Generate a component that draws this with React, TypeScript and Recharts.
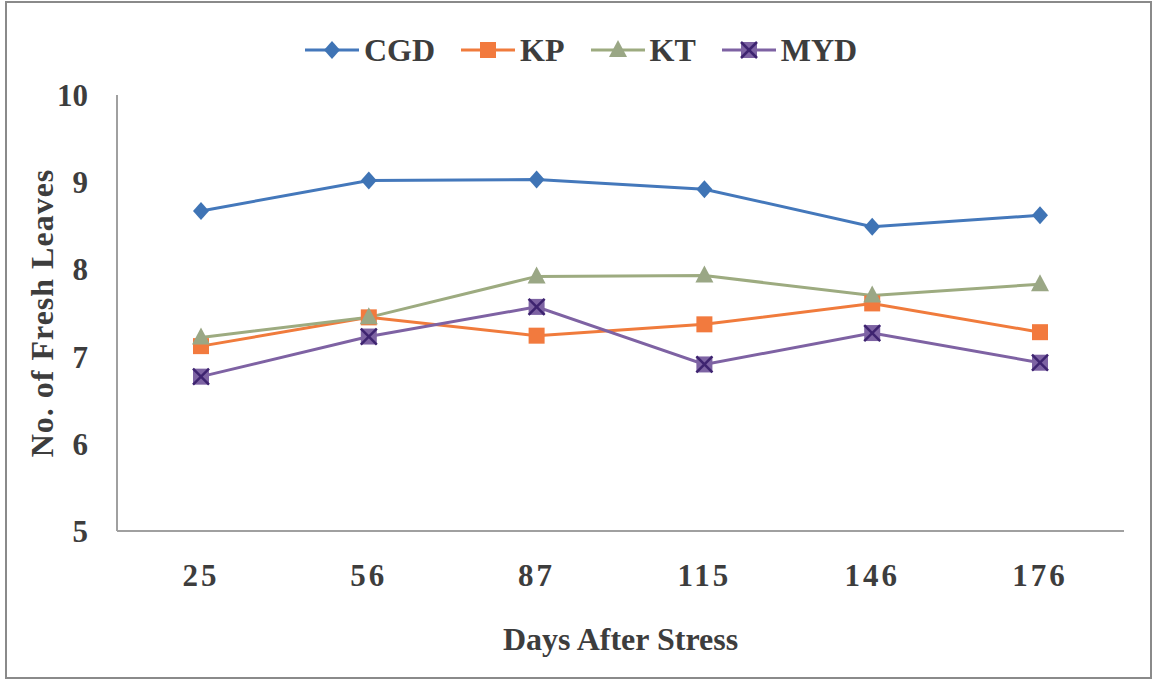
import { LineChart, Line, XAxis, YAxis } from "recharts";

const days = ["25", "56", "87", "115", "146", "176"];
const cgd = [8.67, 9.02, 9.03, 8.92, 8.49, 8.62];
const kp = [7.12, 7.45, 7.24, 7.37, 7.61, 7.28];
const kt = [7.22, 7.45, 7.92, 7.93, 7.7, 7.83];
const myd = [6.77, 7.23, 7.57, 6.91, 7.27, 6.93];
const yTicks = [5, 6, 7, 8, 9, 10];

const data = days.map((d, i) => ({
  day: d,
  CGD: cgd[i],
  KP: kp[i],
  KT: kt[i],
  MYD: myd[i],
}));

const FONT = '"Liberation Serif", "Times New Roman", serif';
const TEXT = "#3d3d3d";

const SERIES = [
  { key: "CGD", color: "#4478bb", marker: "diamond" },
  { key: "KP", color: "#f07b3c", marker: "square" },
  { key: "KT", color: "#9dab80", marker: "triangle" },
  { key: "MYD", color: "#7e62a3", marker: "cross" },
];

function Marker({ kind, cx, cy }: { kind: string; cx: number; cy: number }) {
  if (kind === "diamond")
    return (
      <polygon
        points={`${cx},${cy - 9} ${cx + 8},${cy} ${cx},${cy + 9} ${cx - 8},${cy}`}
        fill="#3f74b5"
      />
    );
  if (kind === "square")
    return <rect x={cx - 8} y={cy - 8} width={16} height={16} fill="#f27a3e" />;
  if (kind === "triangle")
    return (
      <polygon
        points={`${cx},${cy - 10} ${cx + 9},${cy + 7} ${cx - 9},${cy + 7}`}
        fill="#9aa785"
      />
    );
  return (
    <g>
      <rect x={cx - 8} y={cy - 8} width={16} height={16} fill="#7d63a3" />
      <line x1={cx - 8} y1={cy - 8} x2={cx + 8} y2={cy + 8} stroke="#3e2470" strokeWidth={2.5} />
      <line x1={cx + 8} y1={cy - 8} x2={cx - 8} y2={cy + 8} stroke="#3e2470" strokeWidth={2.5} />
    </g>
  );
}

function LegendRow() {
  return (
    <div
      style={{
        position: "absolute",
        left: 305,
        top: 30,
        display: "flex",
        gap: 26,
        fontFamily: FONT,
      }}
    >
      {SERIES.map((s) => (
        <div key={s.key} style={{ display: "flex", alignItems: "center" }}>
          <svg width={54} height={22}>
            <line x1={0} y1={11} x2={54} y2={11} stroke={s.color} strokeWidth={3} />
            <Marker kind={s.marker} cx={27} cy={11} />
          </svg>
          <span style={{ fontSize: 32, fontWeight: "bold", color: TEXT, marginLeft: 5, lineHeight: "40px" }}>
            {s.key}
          </span>
        </div>
      ))}
    </div>
  );
}

export default function App() {
  return (
    <div style={{ position: "fixed", left: 0, top: 0, width: 1154, height: 680, background: "#fff" }}>
      <div
        style={{
          position: "absolute",
          left: 5,
          top: 1,
          width: 1143,
          height: 674,
          border: "2px solid #8a8a8a",
        }}
      />
      <LegendRow />
      <div style={{ position: "absolute", left: 0, top: 0 }}>
        <LineChart
          width={1154}
          height={680}
          data={data}
          margin={{ top: 95, right: 30, left: 57, bottom: 119 }}
        >
          <XAxis
            dataKey="day"
            padding={{ left: 84, right: 84 }}
            axisLine={{ stroke: "#a0a0a0", strokeWidth: 2 }}
            tickLine={false}
            tickSize={0}
            tickMargin={33}
            tick={{ fontFamily: FONT, fontSize: 31, fontWeight: "bold", fill: TEXT, letterSpacing: 3 }}
            label={{
              value: "Days After Stress",
              position: "insideBottom",
              offset: -89,
              style: { fontFamily: FONT, fontSize: 32, fontWeight: "bold", fill: TEXT },
            }}
          />
          <YAxis
            width={60}
            domain={[5, 10]}
            ticks={yTicks}
            axisLine={{ stroke: "#a0a0a0", strokeWidth: 2 }}
            tickLine={false}
            tickSize={0}
            tickMargin={29}
            tick={{ fontFamily: FONT, fontSize: 31, fontWeight: "bold", fill: TEXT }}
            label={{
              value: "No. of  Fresh Leaves",
              angle: -90,
              position: "insideLeft",
              offset: -15,
              style: {
                fontFamily: FONT,
                fontSize: 32,
                fontWeight: "bold",
                fill: TEXT,
                textAnchor: "middle",
                whiteSpace: "pre",
                letterSpacing: 1,
              },
            }}
          />
          {SERIES.map((s) => (
            <Line
              key={s.key}
              dataKey={s.key}
              stroke={s.color}
              strokeWidth={3}
              isAnimationActive={false}
              dot={(p: any) => <Marker key={`${s.key}-${p.index}`} kind={s.marker} cx={p.cx} cy={p.cy} />}
              activeDot={false}
            />
          ))}
        </LineChart>
      </div>
    </div>
  );
}
